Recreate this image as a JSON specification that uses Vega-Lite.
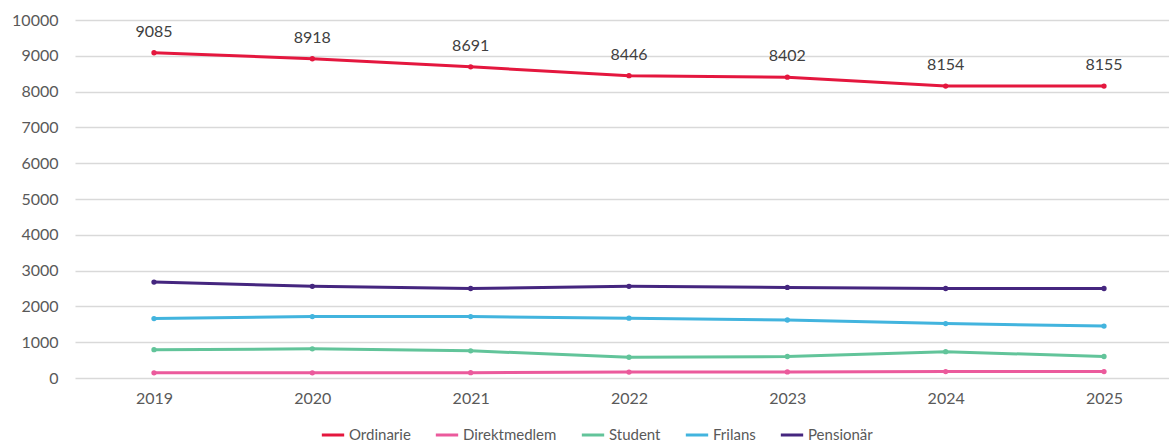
{
  "$schema": "https://vega.github.io/schema/vega-lite/v6.json",
  "width": 1094,
  "height": 358,
  "autosize": {"type": "none"},
  "padding": {"left": 75, "top": 20, "right": 0, "bottom": 65},
  "config": {"view": {"stroke": null}, "font": "Lato"},
  "data": {
    "values": [
      {"year": "2019", "series": "Ordinarie", "value": 9085},
      {"year": "2020", "series": "Ordinarie", "value": 8918},
      {"year": "2021", "series": "Ordinarie", "value": 8691},
      {"year": "2022", "series": "Ordinarie", "value": 8446},
      {"year": "2023", "series": "Ordinarie", "value": 8402},
      {"year": "2024", "series": "Ordinarie", "value": 8154},
      {"year": "2025", "series": "Ordinarie", "value": 8155},
      {"year": "2019", "series": "Direktmedlem", "value": 145},
      {"year": "2020", "series": "Direktmedlem", "value": 145},
      {"year": "2021", "series": "Direktmedlem", "value": 150},
      {"year": "2022", "series": "Direktmedlem", "value": 165},
      {"year": "2023", "series": "Direktmedlem", "value": 170},
      {"year": "2024", "series": "Direktmedlem", "value": 180},
      {"year": "2025", "series": "Direktmedlem", "value": 180},
      {"year": "2019", "series": "Student", "value": 790},
      {"year": "2020", "series": "Student", "value": 815},
      {"year": "2021", "series": "Student", "value": 760},
      {"year": "2022", "series": "Student", "value": 580},
      {"year": "2023", "series": "Student", "value": 600},
      {"year": "2024", "series": "Student", "value": 735},
      {"year": "2025", "series": "Student", "value": 600},
      {"year": "2019", "series": "Frilans", "value": 1660},
      {"year": "2020", "series": "Frilans", "value": 1715},
      {"year": "2021", "series": "Frilans", "value": 1715},
      {"year": "2022", "series": "Frilans", "value": 1670},
      {"year": "2023", "series": "Frilans", "value": 1620},
      {"year": "2024", "series": "Frilans", "value": 1520},
      {"year": "2025", "series": "Frilans", "value": 1450},
      {"year": "2019", "series": "Pensionär", "value": 2680},
      {"year": "2020", "series": "Pensionär", "value": 2560},
      {"year": "2021", "series": "Pensionär", "value": 2500},
      {"year": "2022", "series": "Pensionär", "value": 2560},
      {"year": "2023", "series": "Pensionär", "value": 2530},
      {"year": "2024", "series": "Pensionär", "value": 2500},
      {"year": "2025", "series": "Pensionär", "value": 2500}
    ]
  },
  "encoding": {
    "x": {
      "field": "year",
      "type": "ordinal",
      "scale": {"padding": 0.4547, "align": 0.5486},
      "axis": {
        "title": null,
        "labelAngle": 0,
        "domain": false,
        "ticks": false,
        "labelPadding": 12,
        "labelFontSize": 16,
        "labelColor": "#595959"
      }
    },
    "y": {
      "field": "value",
      "type": "quantitative",
      "scale": {"domain": [0, 10000], "nice": false},
      "axis": {
        "title": null,
        "values": [0, 1000, 2000, 3000, 4000, 5000, 6000, 7000, 8000, 9000, 10000],
        "format": "d",
        "domain": false,
        "ticks": false,
        "labelPadding": 17,
        "labelFontSize": 16,
        "labelColor": "#595959",
        "gridColor": "#D9D9D9",
        "gridWidth": 1.3
      }
    }
  },
  "layer": [
    {
      "mark": {"type": "line", "strokeWidth": 3, "point": {"size": 28, "filled": true}},
      "encoding": {
        "color": {
          "field": "series",
          "type": "nominal",
          "scale": {
            "domain": ["Ordinarie", "Direktmedlem", "Student", "Frilans", "Pensionär"],
            "range": ["#E4173E", "#EB5A9C", "#62C49A", "#42B4DE", "#45267F"]
          },
          "legend": {
            "title": null,
            "orient": "none",
            "direction": "horizontal",
            "legendX": 245,
            "legendY": 402,
            "symbolType": "stroke",
            "symbolStrokeWidth": 3,
            "symbolSize": 500,
            "labelFontSize": 15,
            "labelColor": "#595959",
            "columnPadding": 18,
            "labelOffset": 3
          }
        }
      }
    },
    {
      "transform": [{"filter": "datum.series === 'Ordinarie'"}],
      "mark": {"type": "text", "dy": -21, "fontSize": 16, "color": "#404040"},
      "encoding": {"text": {"field": "value", "type": "quantitative", "format": "d"}}
    }
  ]
}
